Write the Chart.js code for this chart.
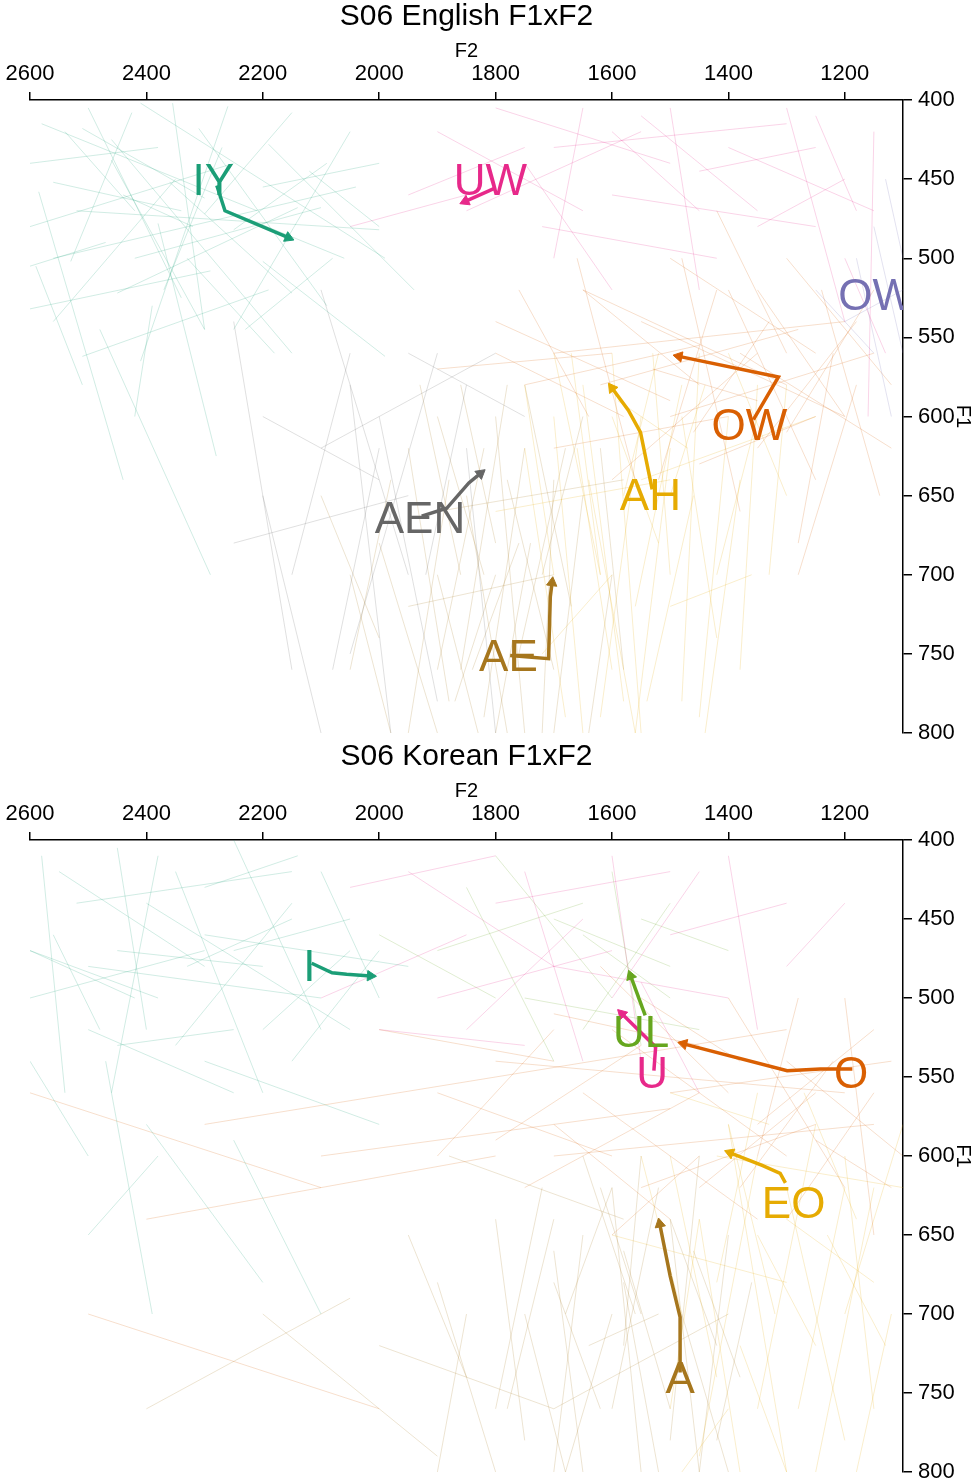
<!DOCTYPE html>
<html>
<head>
<meta charset="utf-8">
<script src="https://cdn.jsdelivr.net/npm/chart.js@4.4.1/dist/chart.umd.min.js"></script>
<style>
  body { margin: 0; background: #fff; width: 971px; height: 1484px; position: relative; overflow: hidden; }
  .panel { position: absolute; left: 0; }
</style>
</head>
<body>
<canvas id="en" class="panel" style="top:0" width="971" height="742"></canvas>
<canvas id="ko" class="panel" style="top:740px" width="971" height="744"></canvas>
<script>
// axes (Hz)
var xTicks = [2600, 2400, 2200, 2000, 1800, 1600, 1400, 1200];
var yTicks = [400, 450, 500, 550, 600, 650, 700, 750, 800];

// ---------- English: mean trajectories, [F2, F1] per time point ----------
var enIY  = [[2279, 454], [2265, 470], [2156, 487]];
var enUW  = [[1803, 456], [1852, 464]];
var enOW  = [[1357, 602], [1314, 575], [1485, 562]];
var enAH  = [[1531, 646], [1551, 610], [1572, 596], [1600, 582]];
var enAEN = [[1927, 663], [1884, 658], [1846, 642], [1826, 636]];
var enAE  = [[1775, 751], [1709, 753], [1706, 714], [1703, 705]];

var enLabels  = ['IY', 'UW', 'OW', 'OW', 'AH', 'AEN', 'AE'];
var enLabelF2 = [2285, 1809, 1146, 1364, 1534, 1930, 1778];
var enLabelF1 = [450, 450, 523, 605, 649, 664, 751];

// English: single tokens, [F2 start, F1 start, F2 end, F1 end]
var enTokIY = [
  [2580,415,2210,470],[2560,500,2040,455],[2500,405,2340,525],[2460,425,2150,560],[2600,480,2250,440],
  [2410,402,1990,500],[2350,450,2560,540],[2310,418,2090,530],[2260,404,2410,565],[2520,470,2000,482],
  [2190,428,1940,520],[2450,522,2140,468],[2600,532,2290,508],[2380,478,2280,625],[2150,408,2300,472],
  [2560,452,2340,470],[2100,468,2420,500],[2300,545,2460,438],[2510,562,2190,520],[2050,420,2250,545],
  [2425,408,2530,502],[2250,482,2090,440],[2355,402,2300,545],[2585,458,2440,640],[2200,502,1990,562],
  [2480,545,2290,700],[2150,522,2360,452],[2060,500,2260,470],[2600,440,2380,430],[2300,462,2510,418],
  [2540,420,2420,470],[2470,490,2600,505],[2330,500,2180,560],[2270,430,2370,520],[2120,445,2000,480],
  [2440,460,2320,480],[2590,505,2510,580],[2230,545,2080,500],[2390,530,2420,600],[2000,440,2200,455]
];
var enTokUW = [
  [1900,420,1650,470],[1800,405,1500,440],[1700,430,1300,415],[1600,460,1250,480],[1500,405,1450,520],
  [1400,430,1150,470],[1850,470,1550,420],[1300,405,1200,540],[1150,420,1160,600],[1750,440,1600,520],
  [1550,410,1350,470],[1950,460,1750,430],[1450,445,1250,430],[1650,405,1700,500],[1350,480,1200,450],
  [1250,410,1180,470],[1600,420,1450,470],[2050,480,1850,460],[1200,500,1130,560],[1720,480,1420,500]
];
var enTokOW = [
  [1700,560,1200,540],[1650,520,1300,580],[1500,600,1150,560],[1400,520,1250,640],[1750,580,1450,555],
  [1300,500,1120,580],[1600,640,1350,560],[1550,540,1200,600],[1450,580,1650,520],[1350,620,1180,540],
  [1250,560,1500,500],[1700,620,1400,600],[1200,600,1350,520],[1800,540,1500,590],[1480,500,1380,660],
  [1150,520,1300,610],[1620,580,1280,545],[1380,560,1120,620],[1520,640,1420,520],[1280,680,1220,560],
  [1900,570,1600,560],[1660,500,1560,640],[1330,540,1460,610],[1420,470,1300,560],[1240,520,1140,650],
  [1580,600,1800,560],[1180,580,1280,700],[1760,520,1640,600],[1450,630,1250,600],[1350,590,1530,570]
];
var enTokAH = [
  [1600,560,1550,800],[1550,600,1620,790],[1650,580,1580,780],[1500,620,1560,800],[1450,560,1480,780],
  [1700,600,1650,800],[1580,650,1520,560],[1400,600,1450,790],[1620,700,1700,560],[1350,580,1380,760],
  [1520,680,1600,600],[1480,600,1420,740],[1750,620,1680,790],[1560,720,1480,580],[1640,640,1560,800],
  [1300,650,1400,560],[1420,700,1350,600],[1700,700,1750,580],[1530,560,1500,700],[1600,760,1660,620],
  [1380,640,1440,800],[1670,560,1620,700],[1460,650,1540,780],[1550,640,1250,600],[1800,660,1500,640],
  [1330,700,1300,580],[1720,750,1600,700],[1440,580,1500,650],[1590,590,1470,620],[1500,720,1360,700]
];
var enTokAE = [
  [1800,600,1750,800],[1850,650,1780,800],[1750,620,1820,790],[1900,700,1830,800],[1700,640,1720,800],
  [1950,620,1880,780],[1780,580,1860,760],[1650,650,1700,800],[1820,700,1900,600],[1720,700,1650,600],
  [2000,680,1900,800],[1880,640,1950,800],[1760,750,1680,620],[1600,700,1640,800],[1930,580,1860,700],
  [1840,760,1760,680],[2050,700,1980,800],[1700,760,1780,640],[1900,760,1820,620],[1620,620,1580,760],
  [1800,700,1870,780],[1980,640,2050,760],[1670,720,1750,580],[1860,580,1800,680],[2100,650,2000,740],
  [1740,680,1800,800],[1950,720,1700,700],[1580,640,1900,660]
];
var enTokAEN = [
  [2000,600,1900,780],[2100,520,1950,700],[1900,560,2050,750],[2200,600,2000,640],[1850,620,1800,800],
  [2150,700,2050,560],[1950,650,2250,680],[2050,580,1980,800],[1800,560,2100,620],[2250,540,2150,760],
  [1920,700,1850,580],[2080,760,2000,620],[1750,600,1950,560],[2200,650,2100,800]
];
var enTokOWp = [
  [1150,480,1100,560],[1200,540,1100,520],[1180,500,1120,600],[1250,520,1150,560],[1130,450,1100,500]
];

// ---------- Korean: mean trajectories ----------
var koI  = [[2116, 478], [2081, 484], [2056, 485], [2015, 486]];
var koUL = [[1543, 511], [1568, 486]];
var koU  = [[1528, 546], [1525, 531], [1583, 510]];
var koO  = [[1187, 545], [1242, 545], [1299, 546], [1477, 529]];
var koEO = [[1302, 617], [1311, 611], [1342, 606], [1397, 598]];
var koA  = [[1483, 737], [1483, 702], [1500, 676], [1518, 643]];

var koLabels  = ['I', 'UL', 'U', 'O', 'EO', 'A'];
var koLabelF2 = [2120, 1550, 1531, 1189, 1288, 1483];
var koLabelF1 = [479, 521, 547, 547, 629, 740];

// Korean: single tokens
var koTokI = [
  [2580,410,2540,560],[2550,420,2300,480],[2500,480,2100,500],[2450,405,2400,520],[2400,440,2050,520],
  [2600,500,2300,470],[2350,420,2200,560],[2300,460,1950,480],[2250,400,2100,520],[2200,480,2450,470],
  [2500,520,2250,560],[2150,440,2350,530],[2420,500,2600,470],[2050,450,2250,470],[2380,410,2460,560],
  [2560,460,2480,520],[2100,420,2000,500],[2300,540,2000,580],[2470,540,2390,700],[2200,520,2050,470],
  [2600,540,2500,600],[2330,480,2150,450],[2400,580,2200,680],[2520,440,2150,420],[2000,470,2150,540],
  [2250,520,2450,530],[2140,410,2300,430],[2600,470,2380,500],[2380,600,2500,650],[2250,590,2100,700]
];
var koTokU = [
  [1950,420,1700,480],[1800,440,1500,420],[1700,480,1400,500],[1600,410,1550,540],[1500,460,1300,440],
  [1900,500,1600,470],[1750,420,1650,540],[1400,410,1350,520],[1850,460,2100,500],[2050,430,1800,410],
  [1550,490,1450,560],[1650,450,1850,520],[1300,480,1200,440],[1450,420,1600,500],[2000,520,1750,530]
];
var koTokUL = [
  [1800,410,1600,500],[1700,450,1500,480],[1900,470,1650,440],[1600,420,1550,530],[1750,500,1450,520],
  [1550,450,1400,470],[2000,460,1800,500],[1650,520,1500,440],[1850,430,1700,540],[1500,500,1650,460]
];
var koTokO = [
  [2300,580,1300,520],[1800,540,1200,560],[1700,600,1150,580],[1600,520,1300,600],[1500,560,1120,540],
  [1400,500,1200,620],[1750,620,1450,560],[1300,540,1100,600],[2100,600,1500,570],[1650,560,1350,640],
  [1200,500,1150,650],[1550,620,1250,580],[1450,530,1700,510],[1350,580,1150,520],[1900,560,1600,600],
  [1250,560,1450,620],[1620,480,1400,560],[1500,640,1700,580],[1150,560,1300,640],[2000,520,1700,540],
  [1380,620,1220,540],[1800,590,1550,530],[1280,500,1350,600],[1700,520,1900,600],[1450,600,1600,650],
  [1120,620,1250,590],[2400,640,1800,600],[1550,500,1380,540],[2600,560,2100,620],[2500,700,2000,760]
];
var koTokEO = [
  [1400,580,1300,800],[1350,600,1450,790],[1300,620,1200,780],[1250,580,1350,760],[1450,640,1380,800],
  [1200,600,1150,760],[1150,620,1250,800],[1500,600,1420,740],[1320,700,1400,580],[1280,760,1200,620],
  [1420,680,1350,560],[1100,580,1200,700],[1380,720,1300,800],[1480,700,1550,600],[1230,650,1130,720],
  [1350,650,1250,720],[1500,760,1450,640],[1120,700,1180,800],[1270,560,1180,640],[1420,600,1100,620],
  [1600,650,1300,680],[1150,680,1300,640],[1400,760,1480,800],[1330,580,1500,560]
];
var koTokA = [
  [1600,620,1550,800],[1650,650,1700,800],[1500,640,1450,800],[1550,700,1620,620],[1700,660,1650,800],
  [1450,600,1500,780],[1750,700,1680,800],[1580,680,1520,800],[1400,650,1450,800],[1800,640,1750,780],
  [1520,620,1600,760],[1680,700,1600,620],[1480,700,1400,800],[1620,760,1700,680],[1900,680,1800,800],
  [1550,600,1580,720],[1720,620,1800,760],[1420,720,1500,640],[1650,600,1560,700],[1850,700,1900,800],
  [1360,680,1420,780],[1780,760,1700,640],[1500,760,1580,660],[1950,650,1850,740],[1600,700,1680,800],
  [1460,660,1380,740],[2000,720,1700,760],[1700,760,1400,700],[1580,640,1880,600],[1640,720,1520,700],
  [2200,700,1900,790],[2400,760,2050,690]
];

// Dark2 colours
var dark2 = {
  teal: '#1B9E77', orange: '#D95F02', purple: '#7570B3', pink: '#E7298A',
  green: '#66A61E', yellow: '#E6AB02', brown: '#A6761D', gray: '#666666'
};
var FONT = '"Liberation Sans", Arial, sans-serif';

function rgba(hex, a) {
  var n = parseInt(hex.slice(1), 16);
  return 'rgba(' + (n >> 16) + ',' + ((n >> 8) & 255) + ',' + (n & 255) + ',' + a + ')';
}

// token segments -> one dataset with gaps between tokens
function tokenSet(segs, col) {
  var pts = [];
  segs.forEach(function (s) {
    pts.push({x: s[0], y: s[1]}, {x: s[2], y: s[3]}, {x: null, y: null});
  });
  return {
    data: pts, showLine: true, spanGaps: false, order: 2,
    borderColor: rgba(dark2[col], 0.2), borderWidth: 1, pointRadius: 0
  };
}

// arrow head direction from the last two points (in pixels)
function tipAngle(ctx) {
  var d = ctx.dataset.data, n = d.length;
  var sx = ctx.chart.scales.x, sy = ctx.chart.scales.y;
  var dx = sx.getPixelForValue(d[n - 1].x) - sx.getPixelForValue(d[n - 2].x);
  var dy = sy.getPixelForValue(d[n - 1].y) - sy.getPixelForValue(d[n - 2].y);
  return Math.atan2(dy, dx) * 180 / Math.PI + 90;
}

function meanSet(track, col) {
  return {
    data: track.map(function (p) { return {x: p[0], y: p[1]}; }),
    showLine: true, order: 1,
    borderColor: dark2[col], backgroundColor: dark2[col], borderWidth: 3.5,
    pointStyle: 'triangle',
    pointRadius: function (ctx) { return ctx.dataIndex === ctx.dataset.data.length - 1 ? 6 : 0; },
    pointRotation: tipAngle,
    pointBorderWidth: 1
  };
}

var vowelLabels = {
  id: 'vowelLabels',
  afterDatasetsDraw: function (chart, args, opts) {
    var ctx = chart.ctx, a = chart.chartArea;
    var sx = chart.scales.x, sy = chart.scales.y;
    ctx.save();
    ctx.beginPath();
    ctx.rect(a.left, a.top, a.right - a.left, a.bottom - a.top);
    ctx.clip();
    ctx.font = '44px ' + FONT;
    ctx.textAlign = 'center';
    ctx.textBaseline = 'alphabetic';
    opts.text.forEach(function (t, i) {
      ctx.fillStyle = dark2[opts.colors[i]];
      ctx.fillText(t, sx.getPixelForValue(opts.f2[i]), sy.getPixelForValue(opts.f1[i]) + 15.7);
    });
    ctx.restore();
  }
};

function plain(v) { return String(v); }

function makePanel(id, title, padBottom, tokens, means, labels, labF2, labF1, labCols) {
  var datasets = [];
  tokens.forEach(function (t) { datasets.push(tokenSet(t[0], t[1])); });
  means.forEach(function (m) { datasets.push(meanSet(m[0], m[1])); });

  new Chart(document.getElementById(id), {
    type: 'scatter',
    data: { datasets: datasets },
    plugins: [vowelLabels],
    options: {
      responsive: false, animation: false, devicePixelRatio: 1, events: [],
      layout: { padding: { left: 30, right: 0, top: 0, bottom: padBottom } },
      plugins: {
        legend: { display: false },
        tooltip: { enabled: false },
        title: {
          display: true, text: title, fullSize: false, color: '#000',
          font: { family: FONT, size: 30, weight: 'normal', lineHeight: 1.1 },
          padding: { top: 0, bottom: 0 }
        },
        vowelLabels: { text: labels, f2: labF2, f1: labF1, colors: labCols }
      },
      scales: {
        x: {
          type: 'linear', position: 'top', reverse: true, min: 1100, max: 2600,
          afterBuildTicks: function (s) { s.ticks = xTicks.map(function (v) { return {value: v}; }); },
          afterFit: function (s) { s.height = 67; s.paddingLeft = 0; s.paddingRight = 0; },
          grid: { drawOnChartArea: false, drawTicks: true, tickLength: 8, color: '#000', lineWidth: 1.5 },
          border: { display: true, color: '#000', width: 1.5 },
          ticks: { color: '#000', padding: 5, maxRotation: 0, callback: plain, font: { family: FONT, size: 22 } },
          title: {
            display: true, text: 'F2', color: '#000',
            font: { family: FONT, size: 20 }, padding: { top: 6, bottom: 0 }
          }
        },
        y: {
          type: 'linear', position: 'right', reverse: true, min: 400, max: 800,
          afterBuildTicks: function (s) { s.ticks = yTicks.map(function (v) { return {value: v}; }); },
          afterFit: function (s) { s.width = 68; s.paddingTop = 0; s.paddingBottom = 0; },
          grid: { drawOnChartArea: false, drawTicks: true, tickLength: 9, color: '#000', lineWidth: 1.5 },
          border: { display: true, color: '#000', width: 1.5 },
          ticks: { color: '#000', padding: 6, callback: plain, font: { family: FONT, size: 22 } },
          title: {
            display: true, text: 'F1', color: '#000',
            font: { family: FONT, size: 20 }, padding: { top: -4, bottom: 0 }
          }
        }
      }
    }
  });
}

makePanel('en', 'S06 English F1xF2', 9,
  [[enTokIY, 'teal'], [enTokUW, 'pink'], [enTokOWp, 'purple'], [enTokOW, 'orange'],
   [enTokAH, 'yellow'], [enTokAEN, 'gray'], [enTokAE, 'brown']],
  [[enIY, 'teal'], [enUW, 'pink'], [enOW, 'orange'], [enAH, 'yellow'], [enAEN, 'gray'], [enAE, 'brown']],
  enLabels, enLabelF2, enLabelF1, ['teal', 'pink', 'purple', 'orange', 'yellow', 'gray', 'brown']);

makePanel('ko', 'S06 Korean F1xF2', 12,
  [[koTokI, 'teal'], [koTokU, 'pink'], [koTokUL, 'green'], [koTokO, 'orange'],
   [koTokEO, 'yellow'], [koTokA, 'brown']],
  [[koI, 'teal'], [koUL, 'green'], [koU, 'pink'], [koO, 'orange'], [koEO, 'yellow'], [koA, 'brown']],
  koLabels, koLabelF2, koLabelF1, ['teal', 'green', 'pink', 'orange', 'yellow', 'brown']);
</script>
</body>
</html>
